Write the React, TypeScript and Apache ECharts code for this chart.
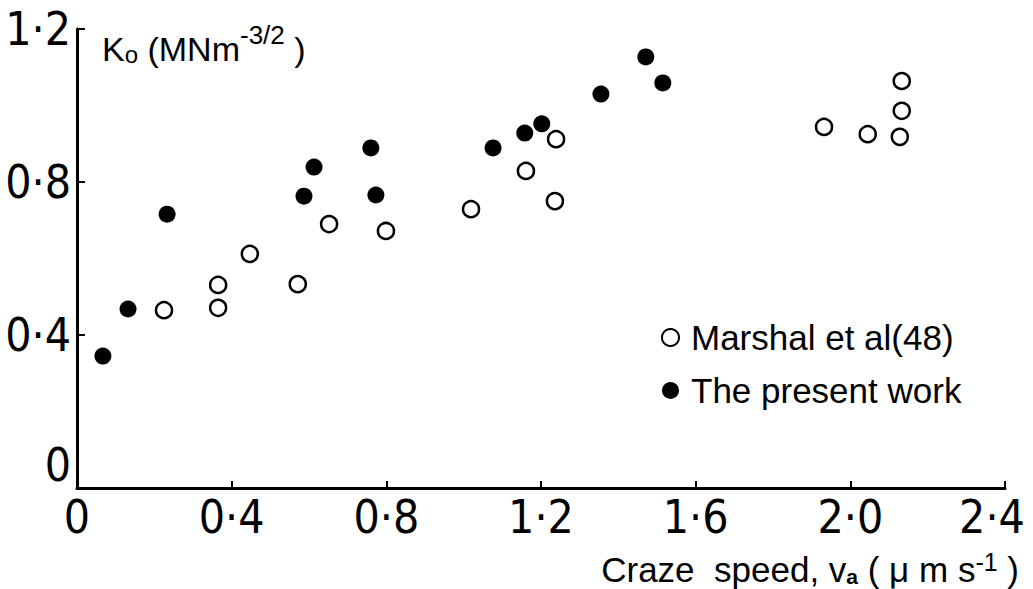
import React, { useEffect, useRef } from "react";
import * as echarts from "echarts";

const xTicks = [0, 0.4, 0.8, 1.2, 1.6, 2.0, 2.4];
const yTicks = [0, 0.4, 0.8, 1.2];

// Marshal et al (48) — open circles: [craze speed, K0]
const marshalX = [0.225, 0.365, 0.365, 0.447, 0.571, 0.652, 0.799, 1.019, 1.161, 1.239, 1.236, 1.932, 2.045, 2.128, 2.133, 2.133];
const marshalY = [0.465, 0.471, 0.531, 0.612, 0.533, 0.69, 0.672, 0.729, 0.829, 0.912, 0.75, 0.944, 0.925, 0.918, 0.986, 1.064];

// The present work — filled circles
const presentX = [0.067, 0.132, 0.233, 0.587, 0.773, 0.613, 0.76, 1.076, 1.158, 1.202, 1.355, 1.471, 1.515];
const presentY = [0.345, 0.468, 0.716, 0.763, 0.766, 0.839, 0.889, 0.889, 0.928, 0.952, 1.03, 1.127, 1.059];

const FONT = "'DejaVu Sans Condensed', 'Liberation Sans', 'DejaVu Sans', sans-serif";
const FONT2 = "'Liberation Sans', 'DejaVu Sans', sans-serif";

const fmt = (v: number) => (v === 0 ? "0" : v.toFixed(1).replace(".", "\u00B7"));

export default function App() {
  const ref = useRef<HTMLDivElement>(null);
  useEffect(() => {
    if (!ref.current) return;
    const chart = echarts.init(ref.current, null, { renderer: "svg" });
    const marshal = marshalX.map((x, i) => [x, marshalY[i]]);
    const present = presentX.map((x, i) => [x, presentY[i]]);
    chart.setOption({
      animation: false,
      backgroundColor: "#fff",
      grid: { left: 77, right: 28, top: 29, bottom: 101, containLabel: false, outerBoundsMode: "none" },
      xAxis: {
        type: "value",
        min: 0,
        max: 2.4,
        interval: 0.4,
        splitLine: { show: false },
        axisLine: { lineStyle: { color: "#000", width: 3 } },
        axisTick: { inside: true, length: 7, lineStyle: { color: "#000", width: 2 } },
        axisLabel: {
          color: "#000",
          fontFamily: FONT,
          fontSize: 46,
          margin: 6,
          lineHeight: 46,
          formatter: (v: number) => {
            if (!xTicks.some((t) => Math.abs(t - v) < 1e-6)) return "";
            if (Math.abs(v - 2.4) < 1e-6) return "{r|" + fmt(v) + "}";
            return fmt(v);
          },
          rich: { r: { fontFamily: FONT, fontSize: 46, lineHeight: 46, color: "#000", padding: [0, 26, 0, 0] } },
        },
      },
      yAxis: {
        type: "value",
        min: 0,
        max: 1.2,
        interval: 0.4,
        splitLine: { show: false },
        axisLine: { lineStyle: { color: "#000", width: 3 } },
        axisTick: { inside: true, length: 8, lineStyle: { color: "#000", width: 2 } },
        axisLabel: {
          color: "#000",
          fontFamily: FONT,
          fontSize: 46,
          margin: 6,
          formatter: (v: number) =>
            yTicks.some((t) => Math.abs(t - v) < 1e-6) ? (v === 0 ? "{z|0}" : fmt(v)) : "",
          rich: { z: { fontFamily: FONT, fontSize: 46, color: "#000", padding: [0, 0, 46, 0] } },
        },
      },
      legend: {
        orient: "vertical",
        left: 656,
        top: 315,
        itemWidth: 17,
        itemHeight: 17,
        itemGap: 18,
        textStyle: { color: "#000", fontFamily: FONT2, fontSize: 35, padding: [0, 0, 0, 7] },
        data: ["Marshal et al(48)", "The present work"],
      },
      series: [
        {
          name: "Marshal et al(48)",
          type: "scatter",
          symbol: "circle",
          symbolSize: 16,
          itemStyle: { color: "#fff", borderColor: "#000", borderWidth: 2.5, opacity: 1 },
          data: marshal,
        },
        {
          name: "The present work",
          type: "scatter",
          symbol: "circle",
          symbolSize: 17,
          itemStyle: { color: "#000", borderColor: "#000", borderWidth: 0, opacity: 1 },
          data: present,
        },
      ],
      graphic: [
        {
          type: "text",
          left: 102,
          top: 22,
          style: {
            text: "{b|K}{sub|o}{b| (MNm}{sup|-3/2}{b| )}",
            fill: "#000",
            rich: {
              b: { fontFamily: FONT2, fontSize: 34, fill: "#000", verticalAlign: "bottom", lineHeight: 44 },
              sub: { fontFamily: FONT2, fontSize: 24, fill: "#000", verticalAlign: "bottom", lineHeight: 30 },
              sup: { fontFamily: FONT2, fontSize: 26, fill: "#000", verticalAlign: "top", lineHeight: 44 },
            },
          },
        },
        {
          type: "text",
          right: 14,
          top: 549,
          style: {
            text: "{b|Craze  speed, v}{sub|a}{b| ( \u03BC m s}{sup|-1}{b| )}",
            fill: "#000",
            rich: {
              b: { fontFamily: FONT2, fontSize: 35, fill: "#000", verticalAlign: "bottom", lineHeight: 38 },
              sub: { fontFamily: FONT2, fontSize: 21, fill: "#000", verticalAlign: "bottom", lineHeight: 28, fontWeight: "bold" },
              sup: { fontFamily: FONT2, fontSize: 25, fill: "#000", verticalAlign: "top", lineHeight: 38 },
            },
          },
        },
      ],
    });
    return () => chart.dispose();
  }, []);
  return (
    <div
      ref={ref}
      style={{ position: "fixed", left: 0, top: 0, width: 1033, height: 589, background: "#fff" }}
    />
  );
}
